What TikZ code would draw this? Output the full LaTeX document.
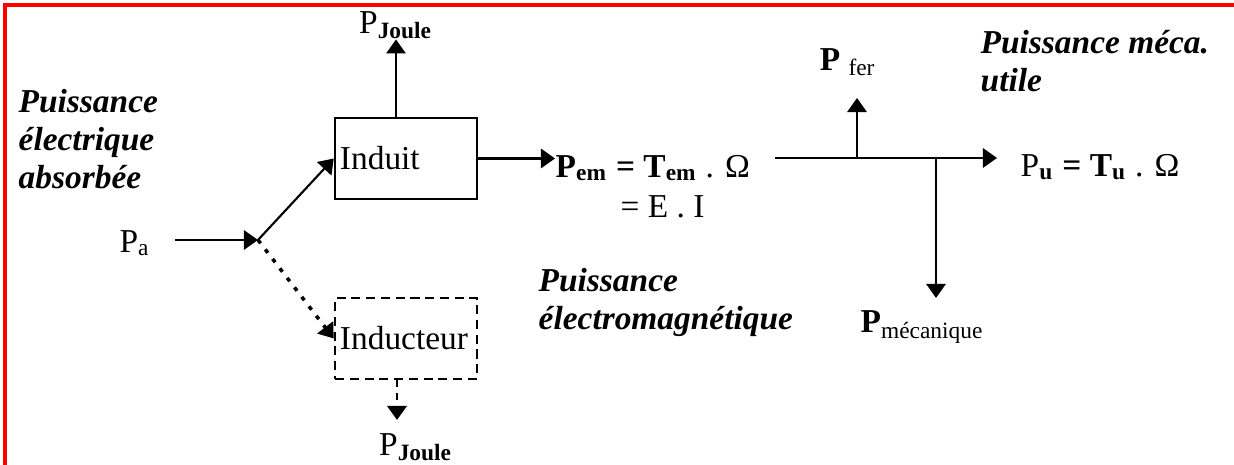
\documentclass[tikz,border=0pt]{standalone}
\usepackage{fontspec}
\setmainfont{Liberation Serif}
\usetikzlibrary{arrows.meta,positioning}
\tikzset{
  dcbloc/.style={draw, line width=0.7pt, minimum height=0.81cm, text width=1.32cm, inner xsep=0.05cm, align=left, font=\fontsize{9.5}{11}\selectfont},
  dcpointille/.style={dcbloc, dash pattern=on 2.6pt off 1.6pt},
  dctexte/.style={inner sep=0pt, font=\fontsize{9.5}{10.8}\selectfont},
  dctitre/.style={inner sep=0pt, align=left, font=\fontsize{9.5}{10.8}\selectfont\bfseries\itshape},
  dcfleche/.style={-{Triangle[length=4pt,width=5.5pt]}, line width=0.6pt},
  dcpoints/.style={dcfleche, line width=1pt, dash pattern=on 1.2pt off 2.2pt},
  dctirets/.style={dcfleche, line width=0.8pt, dash pattern=on 2pt off 1.6pt}
}

\begin{document}
\begin{tikzpicture}[x=0.01cm, y=-0.01cm]
\useasboundingbox (0,0) rectangle (1234,465);
\draw[red, line width=0.9pt] (5,465) -- (5,5) -- (1234,5);

% entree
\node[dctitre, anchor=west] (absorbee) at (18,139) {Puissance\\électrique\\absorbée};
\node[dctexte] (pa) at (135,243) {P\textsubscript{a}};
\coordinate (depart) at (175,240);
\coordinate (jonction) at (258,240);
\draw[dcfleche] (depart) -- (jonction);

% induit et inducteur
\node[dcbloc] (induit) at (406,158.5) {Induit};
\node[dcpointille] (inducteur) at (406,338.5) {Inducteur};
\draw[dcfleche] (jonction) -- (induit.west);
\draw[dcpoints] (jonction) -- (inducteur.west);
\node[dctexte] (pjhaut) at (396,25) {P\textsubscript{\textbf{Joule}}};
\draw[dcfleche] (induit.north -| pjhaut) -- (pjhaut.south);
\node[dctexte] (pjbas) at (416,447) {P\textsubscript{\textbf{Joule}}};
\coordinate (pjbasfleche) at (397,420);
\draw[dctirets] (inducteur.south -| pjbasfleche) -- (pjbasfleche);

% puissance electromagnetique
\node[dctexte, anchor=west] (pem) at (555,168) {\textbf{P\textsubscript{em} = T\textsubscript{em}} . Ω};
\node[dctexte, anchor=west] (pei) at (620,207) {= E . I};
\draw[dcfleche] (induit.east) -- (induit.east -| pem.west);
\node[dctitre, anchor=west] (electromag) at (538,302) {Puissance\\électromagnétique};

% pertes et puissance utile
\coordinate (bdepart) at (775,158);
\coordinate (bfer) at (857,158);
\coordinate (bmeca) at (936,158);
\coordinate (bfin) at (997,158);
\draw[dcfleche] (bdepart) -- (bfin);
\node[dctexte] (pfer) at (848,62) {\textbf{P} \textsubscript{fer}};
\coordinate (ferfleche) at (857,98);
\draw[dcfleche] (bfer) -- (ferfleche);
\node[dctexte, anchor=west] (pmeca) at (860,327) {\textbf{P}\textsubscript{mécanique}};
\coordinate (mecafleche) at (936,298);
\draw[dcfleche] (bmeca) -- (mecafleche);
\node[dctexte, anchor=west] (pu) at (1020,167) {P\textsubscript{\textbf{u}} \textbf{=} \textbf{T}\textsubscript{\textbf{u}} . Ω};
\node[dctitre, anchor=west] (utile) at (980,61) {Puissance méca.\\utile};
\end{tikzpicture}
\end{document}
